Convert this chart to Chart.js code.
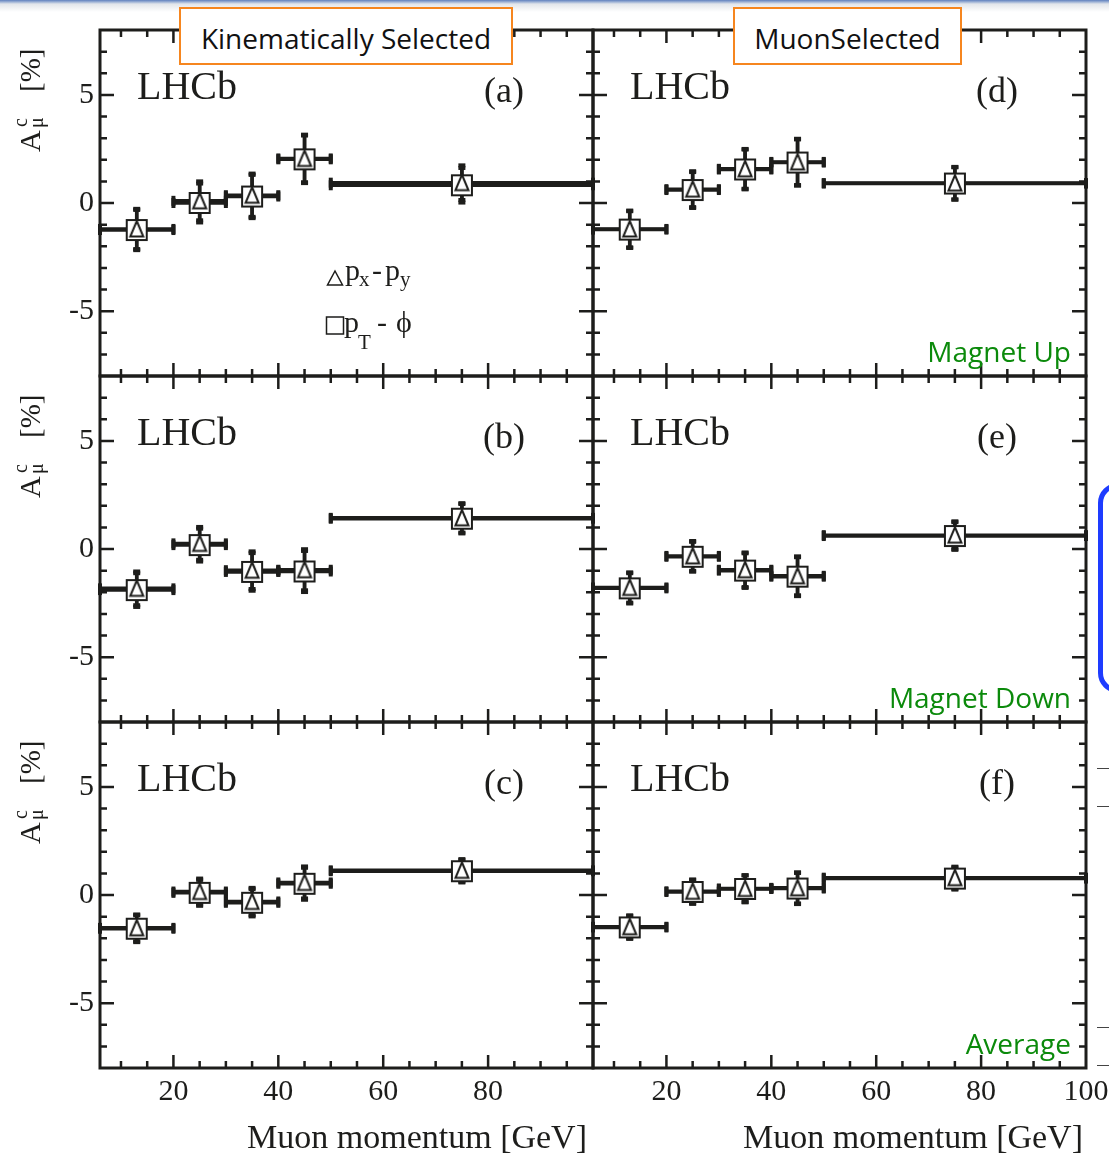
<!DOCTYPE html>
<html>
<head>
<meta charset="utf-8">
<title>Muon charge asymmetry vs muon momentum</title>
<script src="https://cdn.jsdelivr.net/npm/chart.js@4.4.1/dist/chart.umd.min.js"></script>
<style>
  html, body { margin: 0; padding: 0; background: #fff; }
  #page { position: relative; width: 1109px; height: 1155px; overflow: hidden; background: #fff; }
  #page canvas { position: absolute; }
  .topbar { position: absolute; left: 0; top: 0; width: 1109px; height: 12px;
    background: linear-gradient(#5f80bd 0px, #9fb3d6 2px, #e2e5ea 4px, #ffffff 12px); }
  .selbox { position: absolute; top: 7px; height: 58px; box-sizing: border-box; border: 2px solid #f6861f;
    background: #fff; font: 28px "Open Sans", sans-serif; color: #111; text-align: center;
    line-height: 52px; padding-top: 3px; z-index: 5; white-space: nowrap; }
  .bluebox { position: absolute; left: 1098px; top: 483px; width: 60px; height: 210px; box-sizing: border-box;
    border: 5px solid #1e3cff; border-radius: 20px; }
  .dash { position: absolute; left: 1097px; width: 12px; height: 1px; background: #444; }
</style>
</head>
<body>
<div id="page">
  <div class="topbar"></div>
  <div class="selbox" style="left:179px; width:334px;">Kinematically Selected</div>
  <div class="selbox" style="left:733px; width:229px;">MuonSelected</div>
  <div class="bluebox"></div>
  <div class="dash" style="top:768px"></div>
  <div class="dash" style="top:806px"></div>
  <div class="dash" style="top:1027px"></div>
  <div class="dash" style="top:1065px"></div>
</div>
<script>
// momentum bins [GeV]
const binLow = [6, 20, 30, 40, 50];
const binHigh = [20, 30, 40, 50, 100];
const binMid = [13, 25, 35, 45, 75];
const xTickValues = [20, 40, 60, 80, 100];
const yTickValues = [-5, 0, 5];

// A_mu^c [%], triangles = px-py method, squares = pT-phi method
// (a) kinematically selected, magnet up
const aPxPy  = [-1.20, 0.10, 0.36, 2.06, 0.94];
const aPtPhi = [-1.25, 0.00, 0.30, 2.02, 0.82];
const aErr   = [0.93, 0.90, 1.00, 1.10, 0.80];
// (b) kinematically selected, magnet down
const bPxPy  = [-1.82, 0.26, -0.98, -0.96, 1.44];
const bPtPhi = [-1.90, 0.18, -1.06, -1.04, 1.40];
const bErr   = [0.78, 0.76, 0.87, 0.95, 0.68];
// (c) kinematically selected, average
const cPxPy  = [-1.52, 0.16, -0.30, 0.58, 1.14];
const cPtPhi = [-1.56, 0.10, -0.36, 0.52, 1.10];
const cErr   = [0.62, 0.60, 0.63, 0.74, 0.52];
// (d) muon selected, magnet up
const dPxPy  = [-1.20, 0.64, 1.58, 1.90, 0.92];
const dPtPhi = [-1.23, 0.60, 1.55, 1.87, 0.90];
const dErr   = [0.85, 0.83, 0.92, 1.07, 0.75];
// (e) muon selected, magnet down
const ePxPy  = [-1.78, -0.32, -0.96, -1.24, 0.64];
const ePtPhi = [-1.82, -0.36, -1.00, -1.28, 0.60];
const eErr   = [0.70, 0.69, 0.80, 0.90, 0.64];
// (f) muon selected, average
const fPxPy  = [-1.47, 0.17, 0.30, 0.33, 0.80];
const fPtPhi = [-1.50, 0.14, 0.28, 0.30, 0.76];
const fErr   = [0.53, 0.55, 0.62, 0.72, 0.51];

const ink = '#1d1d1b';
const green = '#0b8a0b';
const serif = '"Liberation Serif", "Times New Roman", serif';

const panels = [
  { tag: '(a)', col: 0, row: 0, pxpy: aPxPy, ptphi: aPtPhi, err: aErr, note: '', legend: true },
  { tag: '(b)', col: 0, row: 1, pxpy: bPxPy, ptphi: bPtPhi, err: bErr, note: '' },
  { tag: '(c)', col: 0, row: 2, pxpy: cPxPy, ptphi: cPtPhi, err: cErr, note: '' },
  { tag: '(d)', col: 1, row: 0, pxpy: dPxPy, ptphi: dPtPhi, err: dErr, note: 'Magnet Up' },
  { tag: '(e)', col: 1, row: 1, pxpy: ePxPy, ptphi: ePtPhi, err: eErr, note: 'Magnet Down' },
  { tag: '(f)', col: 1, row: 2, pxpy: fPxPy, ptphi: fPtPhi, err: fErr, note: 'Average' }
];

// wanted plot areas on the page
const colAreas = [{ left: 100, right: 593 }, { left: 593, right: 1086 }];
const rowAreas = [{ top: 30, bottom: 376 }, { top: 376, bottom: 722 }, { top: 722, bottom: 1068 }];

function markerCanvas(kind) {
	const c = document.createElement('canvas');
	c.width = 24;
	c.height = 24;
	const g = c.getContext('2d');
	g.fillStyle = '#fff';
	g.strokeStyle = ink;
	g.lineWidth = 2;
	if (kind == 'square') {
		g.fillRect(2, 2, 20, 20);
		g.strokeRect(2, 2, 20, 20);
	} else {
		g.beginPath();
		g.moveTo(12, 4);
		g.lineTo(18.5, 19.5);
		g.lineTo(5.5, 19.5);
		g.closePath();
		g.fill();
		g.stroke();
	}
	return c;
}
const squareMarker = markerCanvas('square');
const triangleMarker = markerCanvas('triangle');

function makePoints(values, errs) {
	return values.map((v, i) => ({ x: binMid[i], y: v, xMin: binLow[i], xMax: binHigh[i], yErr: errs[i] }));
}

// horizontal bin widths and vertical errors, drawn under the markers
const errorBars = {
	id: 'errorBars',
	beforeDatasetsDraw(chart) {
		const { ctx, scales: { x, y } } = chart;
		ctx.save();
		ctx.strokeStyle = ink;
		ctx.fillStyle = ink;
		ctx.lineWidth = 3.5;
		chart.data.datasets.forEach(ds => {
			ds.data.forEach(p => {
				const x0 = x.getPixelForValue(p.xMin);
				const x1 = x.getPixelForValue(p.xMax);
				const xc = x.getPixelForValue(p.x);
				const yc = y.getPixelForValue(p.y);
				const yt = y.getPixelForValue(p.y + p.yErr);
				const yb = y.getPixelForValue(p.y - p.yErr);
				ctx.beginPath();
				ctx.moveTo(x0, yc);
				ctx.lineTo(x1, yc);
				ctx.moveTo(xc, yt);
				ctx.lineTo(xc, yb);
				ctx.stroke();
				ctx.fillRect(x0 - 2, yc - 5, 4, 10);
				ctx.fillRect(x1 - 2, yc - 5, 4, 10);
				ctx.fillRect(xc - 3.5, yt - 2, 7, 4);
				ctx.fillRect(xc - 3.5, yb - 2, 7, 4);
			});
		});
		ctx.restore();
	}
};

// ROOT-like frame with inward ticks on all four sides
const frameTicks = {
	id: 'frameTicks',
	afterDatasetsDraw(chart) {
		const { ctx, chartArea: a, scales: { x, y } } = chart;
		ctx.save();
		ctx.strokeStyle = ink;
		ctx.lineWidth = 2.5;
		ctx.beginPath();
		for (let v = 10; v < 100; v += 5) {
			const px = x.getPixelForValue(v);
			const len = v % 20 == 0 ? 13 : 7;
			ctx.moveTo(px, a.bottom);
			ctx.lineTo(px, a.bottom - len);
			ctx.moveTo(px, a.top);
			ctx.lineTo(px, a.top + len);
		}
		for (let v = -7; v <= 7; v++) {
			const py = y.getPixelForValue(v);
			const len = v % 5 == 0 ? 14 : 7;
			ctx.moveTo(a.left, py);
			ctx.lineTo(a.left + len, py);
			ctx.moveTo(a.right, py);
			ctx.lineTo(a.right - len, py);
		}
		ctx.stroke();
		ctx.lineWidth = 3;
		ctx.strokeRect(a.left, a.top, a.right - a.left, a.bottom - a.top);
		ctx.restore();
	}
};

function drawYTitle(ctx, a) {
	ctx.save();
	ctx.translate(40, a.top + 122);
	ctx.rotate(-Math.PI / 2);
	ctx.textAlign = 'left';
	ctx.textBaseline = 'alphabetic';
	ctx.font = '30px ' + serif;
	ctx.fillText('A', 0, 0);
	ctx.font = '20px ' + serif;
	ctx.fillText('c', 25, -13);
	ctx.fillText('μ', 24, 3);
	ctx.font = '29px ' + serif;
	ctx.fillText('[%]', 60, 0);
	ctx.restore();
}

function drawLegend(ctx, a) {
	const lx = a.left + 227;
	const ly1 = a.top + 250;
	const ly2 = a.top + 302;
	ctx.save();
	ctx.strokeStyle = ink;
	ctx.lineWidth = 1.5;
	ctx.beginPath();
	ctx.moveTo(lx + 8, ly1 - 9);
	ctx.lineTo(lx + 15.5, ly1 + 5);
	ctx.lineTo(lx + 0.5, ly1 + 5);
	ctx.closePath();
	ctx.stroke();
	ctx.strokeRect(lx - 0.5, ly2 - 15, 17, 17);
	ctx.textAlign = 'left';
	ctx.font = '30px ' + serif;
	ctx.fillText('p', lx + 18, ly1);
	ctx.fillText('-', lx + 45, ly1);
	ctx.fillText('p', lx + 58, ly1);
	ctx.fillText('p', lx + 17, ly2);
	ctx.fillText('-', lx + 50, ly2);
	ctx.fillText('ϕ', lx + 69, ly2);
	ctx.font = '21px ' + serif;
	ctx.fillText('x', lx + 32, ly1 + 6);
	ctx.fillText('y', lx + 73, ly1 + 6);
	ctx.fillText('T', lx + 31, ly2 + 17);
	ctx.restore();
}

const panelText = {
	id: 'panelText',
	afterDraw(chart, args, o) {
		const { ctx, chartArea: a } = chart;
		ctx.save();
		ctx.fillStyle = ink;
		ctx.textBaseline = 'alphabetic';
		ctx.textAlign = 'left';
		ctx.font = '40px ' + serif;
		ctx.fillText('LHCb', a.left + 37, a.top + 69);
		ctx.textAlign = 'center';
		ctx.font = '36px ' + serif;
		ctx.fillText(o.tag, a.left + 404, a.top + 72);
		if (o.note) {
			ctx.fillStyle = green;
			ctx.textAlign = 'right';
			ctx.font = '28px "Open Sans", sans-serif';
			ctx.fillText(o.note, a.right - 15, a.bottom - 14);
			ctx.fillStyle = ink;
		}
		if (o.yTitle) drawYTitle(ctx, a);
		if (o.xTitle) {
			ctx.textAlign = 'right';
			ctx.font = '34px ' + serif;
			ctx.fillText('Muon momentum [GeV]', a.right - o.xTitleInset, a.bottom + 80);
		}
		if (o.legend) drawLegend(ctx, a);
		ctx.restore();
	}
};

const page = document.getElementById('page');

panels.forEach(p => {
	const ca = colAreas[p.col];
	const ra = rowAreas[p.row];
	const showX = p.row == 2;
	const showY = p.col == 0;

	const cLeft = showY ? 0 : ca.left - 10;
	const cTop = ra.top - 10;
	const cRight = p.col == 0 ? ca.right + 6 : 1109;
	const cBottom = showX ? 1155 : ra.bottom + 10;
	const pad = {
		left: showY ? 0 : 10,
		right: cRight - ca.right,
		top: 10,
		bottom: showX ? 0 : 10
	};

	const canvas = document.createElement('canvas');
	canvas.width = cRight - cLeft;
	canvas.height = cBottom - cTop;
	canvas.style.left = cLeft + 'px';
	canvas.style.top = cTop + 'px';
	canvas.style.width = canvas.width + 'px';
	canvas.style.height = canvas.height + 'px';
	page.appendChild(canvas);

	const chart = new Chart(canvas.getContext('2d'), {
		type: 'scatter',
		data: {
			datasets: [{
					label: 'px - py',
					data: makePoints(p.pxpy, p.err),
					pointStyle: triangleMarker,
					pointRadius: 8,
					showLine: false
				},
				{
					label: 'pT - phi',
					data: makePoints(p.ptphi, p.err),
					pointStyle: squareMarker,
					pointRadius: 10,
					showLine: false
				}
			]
		},
		options: {
			responsive: false,
			animation: false,
			devicePixelRatio: 1,
			layout: { padding: pad, autoPadding: false },
			plugins: {
				legend: { display: false },
				tooltip: { enabled: false },
				panelText: {
					tag: p.tag,
					note: p.note,
					legend: !!p.legend,
					yTitle: showY,
					xTitle: showX,
					xTitleInset: p.col == 0 ? 6 : 3
				}
			},
			scales: {
				x: {
					type: 'linear',
					min: 6,
					max: 100,
					display: showX,
					grid: { display: false, drawTicks: false },
					border: { display: false },
					afterBuildTicks: s => { s.ticks = xTickValues.map(v => ({ value: v })); },
					afterFit: showX ? (s => { s.height = 1155 - ra.bottom; s.paddingLeft = 0; s.paddingRight = 0; }) : undefined,
					ticks: {
						autoSkip: false,
						maxRotation: 0,
						padding: 6,
						color: ink,
						font: { family: 'Liberation Serif', size: 30 },
						callback: v => (v == 100 && p.col == 0) ? '' : String(v)
					}
				},
				y: {
					type: 'linear',
					min: -8,
					max: 8,
					display: showY,
					grid: { display: false, drawTicks: false },
					border: { display: false },
					afterBuildTicks: s => { s.ticks = yTickValues.map(v => ({ value: v })); },
					afterFit: showY ? (s => { s.width = ca.left; s.paddingTop = 0; s.paddingBottom = 0; }) : undefined,
					ticks: {
						autoSkip: false,
						padding: 6,
						color: ink,
						font: { family: 'Liberation Serif', size: 30 }
					}
				}
			}
		},
		plugins: [errorBars, frameTicks, panelText]
	});

	// nudge the layout padding if the plot area is not exactly on its place
	for (let k = 0; k < 3; k++) {
		const a = chart.chartArea;
		const dl = cLeft + a.left - ca.left;
		const dr = cLeft + a.right - ca.right;
		const dt = cTop + a.top - ra.top;
		const db = cTop + a.bottom - ra.bottom;
		if (Math.abs(dl) < 0.5 && Math.abs(dr) < 0.5 && Math.abs(dt) < 0.5 && Math.abs(db) < 0.5) break;
		pad.left -= dl;
		pad.right += dr;
		pad.top -= dt;
		pad.bottom += db;
		chart.options.layout.padding = { left: pad.left, right: pad.right, top: pad.top, bottom: pad.bottom };
		chart.update();
	}
});
</script>
</body>
</html>
